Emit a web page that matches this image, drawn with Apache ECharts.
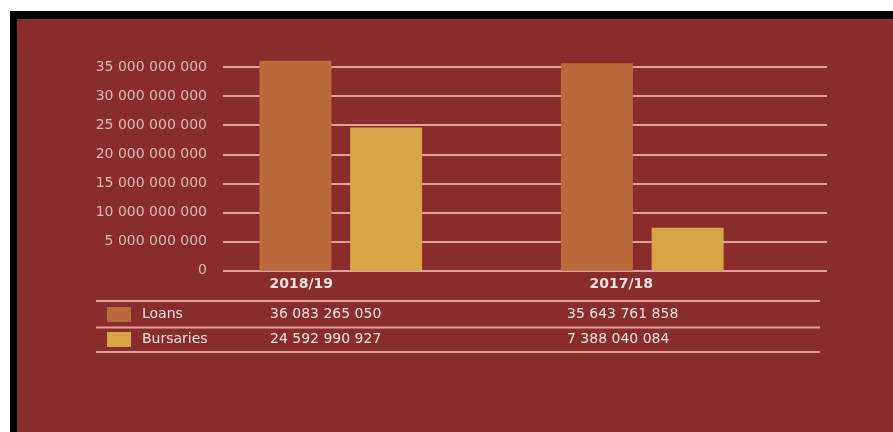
<!DOCTYPE html>
<html>
<head>
<meta charset="utf-8">
<script src="https://cdn.jsdelivr.net/npm/echarts@6/dist/echarts.min.js"></script>
<style>
  html, body { margin: 0; padding: 0; background: #ffffff; }
  #frame {
    position: absolute; left: 10px; top: 11px; right: 0; bottom: 0;
    border-left: 7px solid #000; border-top: 8px solid #000;
    background: #892c2c;
  }
  #chart { position: absolute; left: 0; top: 0; width: 893px; height: 432px; }
</style>
</head>
<body>
<div id="frame"></div>
<div id="chart"></div>
<script>
// Student funding by year (rand)
const categories = ['2018/19', '2017/18'];
const seriesNames = ['Loans', 'Bursaries'];
const loans = [36083265050, 35643761858];
const bursaries = [24592990927, 7388040084];
const yMin = 0;
const yMax = 35000000000;
const yStep = 5000000000;

// Layout
const FONT = 'DejaVu Sans';
const GRID_LINE = '#e3a09b';
const LABEL = '#dcbab5';
const BRIGHT = '#f1e2df';
const COLORS = ['#ba6b3b', '#d7a546'];
const zeroY = 270.7;
const pxPerUnit = 203.7 / yMax;
const barsTopMax = 40000000000;
const labelShift = [79, 42];        // right padding that nudges each year label left
const colX = [270, 567];            // table value columns
const rowY = [314, 339];            // table rows
const ruleY = [301, 327.5, 352];    // table rules

const spaced = v => String(Math.round(v)).replace(/\B(?=(\d{3})+(?!\d))/g, ' ');

const rows = [loans, bursaries];
const graphics = [];
ruleY.forEach(y => graphics.push({
  type: 'line', silent: true,
  shape: { x1: 96, y1: y, x2: 820, y2: y },
  style: { stroke: GRID_LINE, lineWidth: 2 }
}));
rows.forEach((vals, r) => vals.forEach((v, c) => graphics.push({
  type: 'text', silent: true, x: colX[c], y: rowY[r],
  style: { text: spaced(v), fill: BRIGHT, font: '14px "' + FONT + '"', verticalAlign: 'middle', align: 'left' }
})));

const chart = echarts.init(document.getElementById('chart'), null, { renderer: 'canvas' });
chart.setOption({
  backgroundColor: 'transparent',
  animation: false,
  color: COLORS,
  textStyle: { fontFamily: FONT },
  grid: [
    { left: 190, width: 603, top: zeroY - barsTopMax * pxPerUnit, height: barsTopMax * pxPerUnit },
    { left: 223, width: 604, top: zeroY - yMax * pxPerUnit, height: yMax * pxPerUnit }
  ],
  legend: {
    data: seriesNames,
    orient: 'vertical',
    left: 107, top: 307,
    padding: 0,
    icon: 'rect',
    itemWidth: 24, itemHeight: 15, itemGap: 10,
    textStyle: { color: BRIGHT, fontSize: 14, fontFamily: FONT, padding: [3, 0, 0, 6] }
  },
  xAxis: [
    {
      gridIndex: 0, type: 'category',
      data: categories.map((c, i) => ({ value: c, textStyle: { padding: [0, labelShift[i], 0, 0] } })),
      axisLine: { show: false }, axisTick: { show: false },
      axisLabel: { margin: 7, color: BRIGHT, fontWeight: 'bold', fontSize: 14, fontFamily: FONT }
    },
    { gridIndex: 1, type: 'category', data: categories, show: false }
  ],
  yAxis: [
    { gridIndex: 0, type: 'value', min: yMin, max: barsTopMax, show: false },
    {
      gridIndex: 1, type: 'value', min: yMin, max: yMax, interval: yStep,
      axisLine: { show: false }, axisTick: { show: false },
      splitLine: { lineStyle: { color: GRID_LINE, width: 2 } },
      axisLabel: { margin: 16, color: LABEL, fontSize: 14, fontFamily: FONT, formatter: v => spaced(v) }
    }
  ],
  series: [
    { name: seriesNames[0], type: 'bar', xAxisIndex: 0, yAxisIndex: 0, data: loans, barWidth: 72, barGap: '26%' },
    { name: seriesNames[1], type: 'bar', xAxisIndex: 0, yAxisIndex: 0, data: bursaries, barWidth: 72, barGap: '26%' }
  ],
  graphic: graphics
});
</script>
</body>
</html>
